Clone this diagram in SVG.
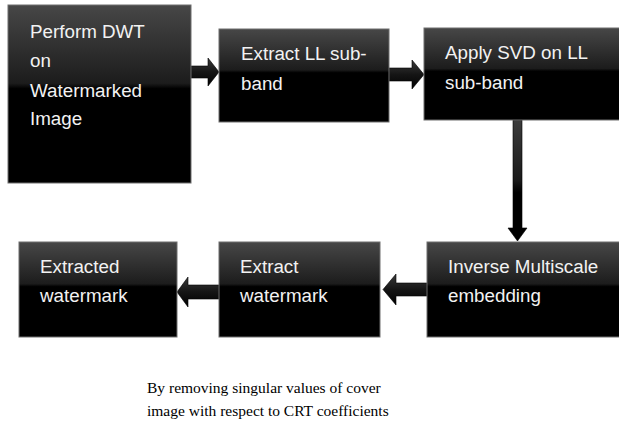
<svg xmlns="http://www.w3.org/2000/svg" width="619" height="430" viewBox="0 0 619 430">
  <defs>
    <!-- dark bevel shading used by every box and block arrow -->
    <linearGradient id="boxFill" x1="0" y1="0" x2="0" y2="1">
      <stop offset="0" stop-color="#474747"/>
      <stop offset="0.44" stop-color="#1c1c1c"/>
      <stop offset="0.47" stop-color="#000"/>
      <stop offset="1" stop-color="#000"/>
    </linearGradient>
    <linearGradient id="arrowH" x1="0" y1="0" x2="0" y2="1">
      <stop offset="0" stop-color="#3a3a3a"/>
      <stop offset="0.5" stop-color="#151515"/>
      <stop offset="1" stop-color="#000"/>
    </linearGradient>
    <linearGradient id="arrowV" x1="0" y1="0" x2="0" y2="1">
      <stop offset="0" stop-color="#3c3c3c"/>
      <stop offset="0.5" stop-color="#1a1a1a"/>
      <stop offset="0.6" stop-color="#000"/>
      <stop offset="1" stop-color="#000"/>
    </linearGradient>
  </defs>
  <style>
    .box { fill: url(#boxFill); stroke: #6e6e6e; stroke-width: 1; }
    .label { font-family: "Liberation Sans", Arial, sans-serif; font-size: 18.8px; fill: #f2f2f2; }
    .note { font-family: "Liberation Serif", "Times New Roman", serif; font-size: 15.5px; fill: #000; }
    .arrH { fill: url(#arrowH); stroke: #000; stroke-width: 0.6; }
    .arrV { fill: url(#arrowV); stroke: #000; stroke-width: 0.6; }
  </style>
  <rect width="619" height="430" fill="#fff"/>

  <g id="connectors">
    <!-- DWT -> Extract LL -->
    <path class="arrH" d="M191,66 H208 V58 L219,72 L208,86 V78 H191 Z"/>
    <!-- Extract LL -> Apply SVD -->
    <path class="arrH" d="M389,68 H412 V60 L424,74.5 L412,89 V81 H389 Z"/>
    <!-- Apply SVD -> Inverse Multiscale -->
    <path class="arrV" d="M513,120 H522 V228 H527 L517.5,241 L508,228 H513 Z"/>
    <!-- Inverse Multiscale -> Extract watermark -->
    <path class="arrH" d="M427,283 H396 V274 L383,289.5 L396,305 V296 H427 Z"/>
    <!-- Extract watermark -> Extracted watermark -->
    <path class="arrH" d="M219,285 H188 V277 L177,292 L188,307 V299 H219 Z"/>
  </g>

  <g id="node-dwt">
    <rect class="box" x="8" y="5" width="183" height="178"/>
    <text class="label" x="30" y="38">Perform DWT</text>
    <text class="label" x="30" y="67">on</text>
    <text class="label" x="30" y="97">Watermarked</text>
    <text class="label" x="30" y="125">Image</text>
  </g>

  <g id="node-extract-ll">
    <rect class="box" x="219" y="29" width="170" height="93"/>
    <text class="label" x="241" y="60">Extract LL sub-</text>
    <text class="label" x="241" y="90">band</text>
  </g>

  <g id="node-svd">
    <rect class="box" x="424" y="28" width="196" height="92"/>
    <text class="label" x="445" y="59">Apply SVD on LL</text>
    <text class="label" x="445" y="89">sub-band</text>
  </g>

  <g id="node-inverse">
    <rect class="box" x="427" y="242" width="193" height="95"/>
    <text class="label" x="448" y="273">Inverse Multiscale</text>
    <text class="label" x="448" y="302">embedding</text>
  </g>

  <g id="node-extract-wm">
    <rect class="box" x="219" y="242" width="161" height="95"/>
    <text class="label" x="240" y="273">Extract</text>
    <text class="label" x="240" y="302">watermark</text>
  </g>

  <g id="node-extracted">
    <rect class="box" x="19" y="242" width="158" height="95"/>
    <text class="label" x="40" y="273">Extracted</text>
    <text class="label" x="40" y="302">watermark</text>
  </g>

  <g id="note">
    <text class="note" x="147" y="393">By removing singular values of cover</text>
    <text class="note" x="147" y="416">image with respect to CRT coefficients</text>
  </g>
</svg>
